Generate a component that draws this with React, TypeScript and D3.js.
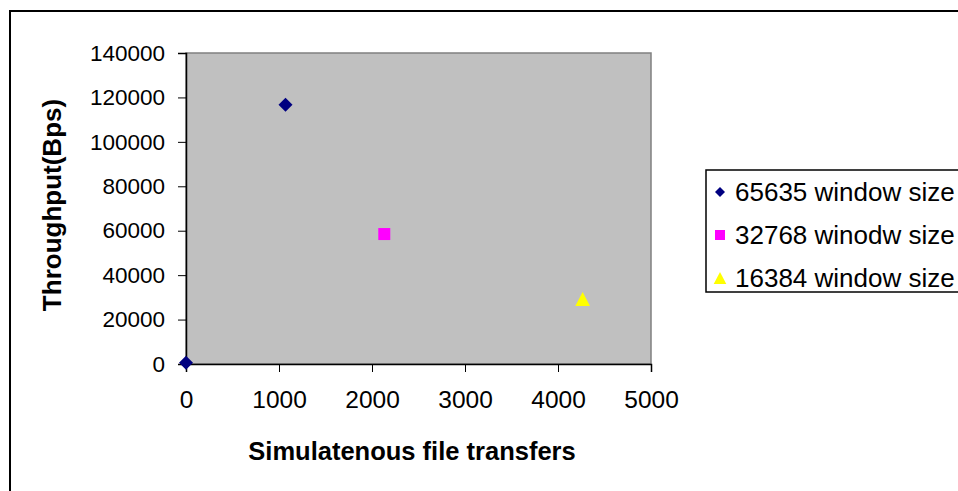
import { useEffect, useRef } from 'react';
import * as d3 from 'd3';

// series values
const seriesNames = ['65635 window size', '32768 winodw size', '16384 window size'];
const seriesColors = ['#000080', '#FF00FF', '#FFFF00'];
const seriesShapes = ['diamond', 'square', 'triangle'];
const series65635 = [
  { x: 0, y: 600 },
  { x: 1070, y: 116700 },
];
const series32768 = [{ x: 2132, y: 58500 }];
const series16384 = [{ x: 4265, y: 29300 }];
const xTicks = [0, 1000, 2000, 3000, 4000, 5000];
const yTicks = [0, 20000, 40000, 60000, 80000, 100000, 120000, 140000];

// Excel style markers: square diamond, equal-sided square, upward triangle
const marker = (shape: string, s: number) => {
  const p = d3.path();
  const h = s / 2;
  if (shape === 'diamond') {
    p.moveTo(0, -h); p.lineTo(h, 0); p.lineTo(0, h); p.lineTo(-h, 0);
  } else if (shape === 'square') {
    p.rect(-h, -h, s, s);
  } else {
    p.moveTo(0, -h); p.lineTo(h * 1.05, h); p.lineTo(-h * 1.05, h);
  }
  p.closePath();
  return p.toString();
};

export default function App() {
  const svgRef = useRef<SVGSVGElement>(null);

  useEffect(() => {
    if (!svgRef.current) return;
    const svg = d3.select(svgRef.current);
    svg.selectAll('*').remove();

    const width = 958;
    const height = 491;
    const font = 'Arial, "Liberation Sans", sans-serif';

    svg.append('rect').attr('width', width).attr('height', height).attr('fill', '#fff');

    // chart frame (right and bottom fall outside the picture)
    svg.append('rect')
      .attr('x', 10).attr('y', 11)
      .attr('width', 1000).attr('height', 600)
      .attr('fill', 'none').attr('stroke', '#000').attr('stroke-width', 2);

    const plot = { left: 186, top: 53, right: 651, bottom: 364 };

    const x = d3.scaleLinear().domain([0, 5000]).range([plot.left, plot.right]);
    const y = d3.scaleLinear().domain([0, 140000]).range([plot.bottom, plot.top]);

    svg.append('rect')
      .attr('x', plot.left).attr('y', plot.top)
      .attr('width', plot.right - plot.left).attr('height', plot.bottom - plot.top)
      .attr('fill', '#C0C0C0').attr('stroke', '#808080').attr('stroke-width', 1.5);

    // axes
    const yAxis = d3.axisLeft(y).tickValues(yTicks).tickSize(8).tickPadding(13).tickFormat(d3.format('d'));
    const gy = svg.append('g').attr('transform', `translate(${plot.left},0)`).call(yAxis);
    const xAxis = d3.axisBottom(x).tickValues(xTicks).tickSize(8).tickPadding(19).tickFormat(d3.format('d'));
    const gx = svg.append('g').attr('transform', `translate(0,${plot.bottom})`).call(xAxis);

    [gx, gy].forEach(g => {
      g.select('.domain').attr('stroke', '#000').attr('stroke-width', 1.5);
      g.selectAll('.tick line').attr('stroke', '#000').attr('stroke-width', 1);
      g.selectAll('.tick text')
        .attr('fill', '#000')
        .attr('font-family', font);
    });
    gy.selectAll('.tick text').attr('font-size', 22.5);
    gx.selectAll('.tick text').attr('font-size', 24.5);

    // axis titles
    svg.append('text')
      .attr('transform', `translate(61,205) rotate(-90)`)
      .attr('text-anchor', 'middle')
      .attr('font-family', font).attr('font-size', 26).attr('font-weight', 'bold')
      .text('Throughput(Bps)');
    svg.append('text')
      .attr('x', 412).attr('y', 460)
      .attr('text-anchor', 'middle')
      .attr('font-family', font).attr('font-size', 25.5).attr('font-weight', 'bold')
      .text('Simulatenous file transfers');

    // markers
    const allSeries = [series65635, series32768, series16384];
    const sizes = [14, 12, 14];
    allSeries.forEach((pts, i) => {
      svg.append('g').selectAll('path')
        .data(pts)
        .join('path')
        .attr('d', marker(seriesShapes[i], sizes[i]))
        .attr('transform', d => `translate(${x(d.x)},${y(d.y)})`)
        .attr('fill', seriesColors[i]);
    });

    // legend
    const lg = svg.append('g');
    const legendTop = 170;
    const rowH = 43;
    lg.append('rect')
      .attr('x', 706).attr('y', legendTop)
      .attr('width', 300).attr('height', 122)
      .attr('fill', '#fff').attr('stroke', '#000').attr('stroke-width', 1.5);
    const legendSizes = [10, 10, 12];
    seriesNames.forEach((name, i) => {
      const cy = legendTop + 22 + i * rowH;
      lg.append('path')
        .attr('d', marker(seriesShapes[i], legendSizes[i]))
        .attr('transform', `translate(720,${cy})`)
        .attr('fill', seriesColors[i]);
      lg.append('text')
        .attr('x', 735).attr('y', cy)
        .attr('dominant-baseline', 'central')
        .attr('font-family', font).attr('font-size', 26)
        .text(name);
    });
  }, []);

  return (
    <svg
      ref={svgRef}
      width={958}
      height={491}
      style={{ position: 'absolute', left: 0, top: 0, display: 'block' }}
    />
  );
}
